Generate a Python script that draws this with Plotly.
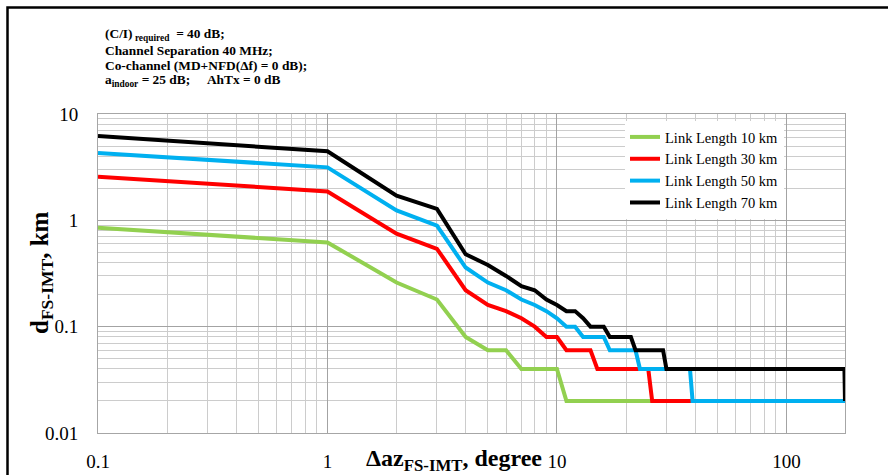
import plotly.graph_objects as go

# ---- data ----
x_10km = [0.1, 1, 2, 3, 4, 5, 6, 7, 10, 11, 180]
y_10km = [0.85, 0.62, 0.26, 0.18, 0.08, 0.06, 0.06, 0.04, 0.04, 0.02, 0.02]

x_30km = [0.1, 1, 2, 3, 4, 5, 6, 7, 8, 9, 10, 11, 14, 15, 25, 26, 180]
y_30km = [2.57, 1.87, 0.75, 0.54, 0.22, 0.16, 0.14, 0.12, 0.10, 0.08, 0.08,
          0.06, 0.06, 0.04, 0.04, 0.02, 0.02]

x_50km = [0.1, 1, 2, 3, 4, 5, 6, 7, 8, 9, 10, 11, 12, 13, 16, 17, 22, 23, 38, 39, 180]
y_50km = [4.3, 3.15, 1.24, 0.89, 0.36, 0.26, 0.22, 0.18, 0.16, 0.14, 0.12,
          0.10, 0.10, 0.08, 0.08, 0.06, 0.06, 0.04, 0.04, 0.02, 0.02]

x_70km = [0.1, 1, 2, 3, 4, 5, 6, 7, 8, 9, 10, 11, 12, 13, 14, 16, 17, 21, 22,
          29, 30, 179, 180]
y_70km = [6.2, 4.46, 1.71, 1.28, 0.48, 0.38, 0.30, 0.24, 0.22, 0.18, 0.16,
          0.14, 0.14, 0.12, 0.10, 0.10, 0.08, 0.08, 0.06, 0.06, 0.04, 0.04, 0.02]

series_names = ["Link Length 10 km", "Link Length 30 km",
                "Link Length 50 km", "Link Length 70 km"]
series_colors = ["#92D050", "#FF0000", "#00B0F0", "#000000"]

info_lines = [
    "<b>(C/I)<sub>\u00a0required</sub>\u00a0\u00a0= 40 dB;</b>",
    "<b>Channel Separation 40 MHz;</b>",
    "<b>Co-channel (MD+NFD(\u0394f) = 0 dB);</b>",
    "<b>a<sub>indoor</sub> = 25 dB;\u00a0\u00a0\u00a0\u00a0\u00a0AhTx = 0 dB</b>",
]

# ---- layout geometry (pixels) ----
W, H = 888, 475
L, R, T, B = 98, 845, 114, 433
PW, PH = R - L, B - T
INFO_Y = [35, 50, 65, 80.5]


def px(xp):
    return (xp - L) / PW


def py(yp):
    return (B - yp) / PH


FONT = "Liberation Serif, Times New Roman, serif"

fig = go.Figure()
for xs, ys, name, col in zip([x_10km, x_30km, x_50km, x_70km],
                             [y_10km, y_30km, y_50km, y_70km],
                             series_names, series_colors):
    fig.add_trace(go.Scatter(x=xs, y=ys, mode="lines", name=name,
                             line=dict(color=col, width=4)))

axis_common = dict(
    type="log", automargin=False, showline=True, mirror=True,
    linecolor="#A6A6A6", linewidth=1,
    showgrid=True, gridcolor="#A3A3A3", gridwidth=1.4, zeroline=False,
    ticks="outside", tickcolor="rgba(0,0,0,0)",
    tickfont=dict(family=FONT, size=19, color="#000000"),
    minor=dict(dtick="D1", showgrid=True, gridcolor="#CCCCCC", gridwidth=1, ticks=""),
    dtick=1,
)

fig.update_xaxes(range=[-1, 2.2553], ticklen=11, **axis_common)
fig.update_yaxes(range=[-2, 1], ticklen=15, **axis_common)

annotations = []
for line, yy in zip(info_lines, INFO_Y):
    annotations.append(dict(
        text=line, xref="paper", yref="paper", x=px(103), y=py(yy),
        xanchor="left", yanchor="middle", showarrow=False,
        font=dict(family=FONT, size=13.4, color="#000000")))

annotations.append(dict(
    text="<b>d<sub>FS-IMT</sub>, km</b>", xref="paper", yref="paper",
    x=px(41), y=py(272), xanchor="center", yanchor="middle", textangle=-90,
    showarrow=False, font=dict(family=FONT, size=25, color="#000000")))

annotations.append(dict(
    text="<b>\u0394az<sub>FS-IMT</sub>, degree</b>", xref="paper", yref="paper",
    x=px(454), y=py(460), xanchor="center", yanchor="middle",
    showarrow=False, font=dict(family=FONT, size=24, color="#000000")))

fig.update_layout(
    template="none",
    width=W, height=H,
    margin=dict(l=L, r=W - R, t=T, b=H - B, pad=0),
    paper_bgcolor="#FFFFFF", plot_bgcolor="#FFFFFF",
    showlegend=True,
    legend=dict(x=px(625), y=py(121), xanchor="left", yanchor="top",
                bgcolor="#FFFFFF", borderwidth=0,
                entrywidth=211, entrywidthmode="pixels",
                font=dict(family=FONT, size=14.5, color="#000000"),
                tracegroupgap=0),
    annotations=annotations,
    shapes=[dict(type="rect", xref="paper", yref="paper",
                 x0=px(7.5), y0=py(490), x1=px(900), y1=py(7.5),
                 line=dict(color="#000000", width=2.5), fillcolor="rgba(0,0,0,0)")],
)

fig.write_html("out.html", config={"displayModeBar": False},
               post_script="document.body.style.margin='0px';document.body.style.overflow='hidden';")
